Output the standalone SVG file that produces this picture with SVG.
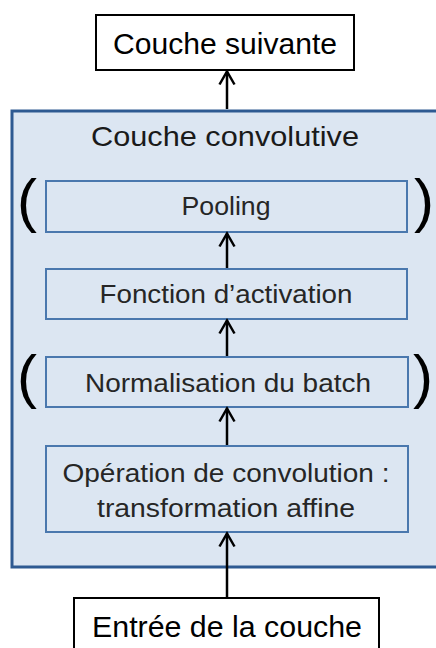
<svg xmlns="http://www.w3.org/2000/svg" width="436" height="648" viewBox="0 0 436 648">
<style>
  text { font-family: "Liberation Sans", Arial, sans-serif; }
  .outer { fill: #ffffff; stroke: #000000; stroke-width: 2; }
  .container { fill: #dce6f2; stroke: #2e5a92; stroke-width: 3; }
  .inner { fill: #dce6f2; stroke: #4a78ae; stroke-width: 2; }
  .t-outer { fill: #000000; font-size: 29px; text-anchor: middle; }
  .t-title { fill: #1a1a1a; font-size: 28px; text-anchor: middle; }
  .t-inner { fill: #262626; font-size: 26px; text-anchor: middle; }
  .paren { fill: #000000; font-size: 60px; text-anchor: middle; }
  .conn { stroke: #000000; stroke-width: 2.5; fill: none; marker-end: url(#arrow); }
</style>
<defs>
  <marker id="arrow" markerUnits="userSpaceOnUse" markerWidth="20" markerHeight="20" viewBox="-16 -10 20 20" refX="0" refY="0" orient="auto">
    <path d="M -13 -7.5 L 0 0 L -13 7.5" fill="none" stroke="#000000" stroke-width="2.5" stroke-linejoin="miter"/>
  </marker>
</defs>
<rect width="436" height="648" fill="#ffffff"/>

<g id="couche-convolutive">
  <rect class="container" x="12" y="111" width="430" height="456"/>
  <text class="t-title" x="225" y="146" textLength="268" lengthAdjust="spacingAndGlyphs">Couche convolutive</text>
</g>

<g id="couche-suivante">
  <rect class="outer" x="96" y="15" width="258" height="55"/>
  <text class="t-outer" x="225" y="54" textLength="224" lengthAdjust="spacingAndGlyphs">Couche suivante</text>
</g>

<g id="pooling">
  <rect class="inner" x="46" y="181" width="361" height="51"/>
  <text class="t-inner" x="226" y="215" textLength="89" lengthAdjust="spacingAndGlyphs">Pooling</text>
  <text class="paren" x="27" y="221">(</text>
  <text class="paren" x="424" y="221">)</text>
</g>

<g id="fonction-activation">
  <rect class="inner" x="46" y="269" width="361" height="50"/>
  <text class="t-inner" x="226" y="303" textLength="253" lengthAdjust="spacingAndGlyphs">Fonction d’activation</text>
</g>

<g id="normalisation">
  <rect class="inner" x="46" y="357" width="362" height="50"/>
  <text class="t-inner" x="228" y="392" textLength="286" lengthAdjust="spacingAndGlyphs">Normalisation du batch</text>
  <text class="paren" x="27" y="397">(</text>
  <text class="paren" x="423" y="397">)</text>
</g>

<g id="operation-convolution">
  <rect class="inner" x="46" y="446" width="362" height="86"/>
  <text class="t-inner" x="226" y="482" textLength="327" lengthAdjust="spacingAndGlyphs">Opération de convolution :</text>
  <text class="t-inner" x="226" y="517" textLength="258" lengthAdjust="spacingAndGlyphs">transformation affine</text>
</g>

<g id="entree-couche">
  <rect class="outer" x="74" y="598" width="305" height="60"/>
  <text class="t-outer" x="227" y="637" textLength="270" lengthAdjust="spacingAndGlyphs">Entrée de la couche</text>
</g>

<g id="connectors">
  <line class="conn" x1="227" y1="109" x2="227" y2="71.5"/>
  <line class="conn" x1="227" y1="268" x2="227" y2="233.5"/>
  <line class="conn" x1="227" y1="356" x2="227" y2="320.5"/>
  <line class="conn" x1="227" y1="445" x2="227" y2="408.5"/>
  <line class="conn" x1="227" y1="597" x2="227" y2="533.5"/>
</g>
</svg>
